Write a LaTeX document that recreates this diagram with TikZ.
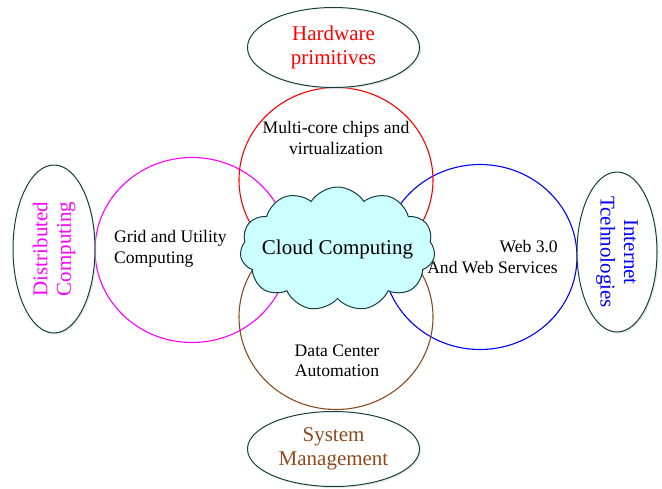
\documentclass[tikz,border=0pt]{standalone}
\usepackage{fontspec}
\setmainfont{Liberation Serif}
\usetikzlibrary{shapes.geometric,shapes.symbols,shadows}
\definecolor{rim}{HTML}{143F3F}
\definecolor{cloudfill}{HTML}{CCFFFF}
\definecolor{sysbrown}{HTML}{8E4A1C}
\definecolor{pinkring}{HTML}{FF00FF}
\definecolor{redring}{HTML}{FF0000}
\definecolor{bluering}{HTML}{0000FF}
\begin{document}
\begin{tikzpicture}[x=1pt,y=-1pt,
  topic/.style={ellipse, draw=rim, line width=1pt, fill=white, inner sep=0pt,
    align=center, font=\fontsize{21}{23.5}\selectfont,
    drop shadow={shadow xshift=1.5pt, shadow yshift=-1.5pt, fill=gray!35, opacity=0.5}},
  ring/.style={ellipse, line width=1.1pt, inner sep=0pt, minimum width=194pt, minimum height=185pt},
  inner/.style={font=\fontsize{17.6}{20.5}\selectfont, inner sep=0pt}]
  \useasboundingbox (0,0) rectangle (662,488);

  % four overlapping fields
  \node[ring, draw=pinkring] (grid) at (192,250) {};
  \node[ring, draw=bluering] (web) at (480,257) {};
  \node[ring, draw=redring] (chips) at (336,180) {};
  \node[ring, draw=sysbrown] (dc) at (336,317) {};

  % labels inside the fields
  \node[inner, align=center] (chipsT) at (336,138) {Multi-core chips and\\virtualization};
  \node[inner, align=left, anchor=west] (gridT) at (114,249) {Grid and Utility\\Computing};
  \node[inner, align=right, anchor=east] (webT) at (558,257) {Web 3.0\\And Web Services};
  \node[inner, align=center] (dcT) at (337,361) {Data Center\\Automation};

  % the cloud in the middle
  \node[cloud, cloud puffs=11, cloud puff arc=115, aspect=1.6, draw=rim, line width=1pt,
        fill=cloudfill, inner sep=0pt, minimum width=195pt, minimum height=124pt] (cloud) at (337.5,249) {};
  \node[font=\fontsize{21}{24}\selectfont, inner sep=0pt] (cloudT) at (cloud.center) {Cloud Computing};

  % outer topics
  \node[topic, text=redring, minimum width=172pt, minimum height=80pt] (hw) at (333.5,47.5) {Hardware\\primitives};
  \node[topic, text=sysbrown, minimum width=172pt, minimum height=75pt] (sys) at (333.5,449) {System\\Management};
  \node[topic, text=pinkring, rotate=90, minimum width=168pt, minimum height=82pt] (dist) at (54,249) {Distributed\\Computing};
  \node[topic, text=bluering, rotate=-90, minimum width=160pt, minimum height=80pt] (inet) at (617,252) {Internet\\Tcehnologies};
\end{tikzpicture}
\end{document}
